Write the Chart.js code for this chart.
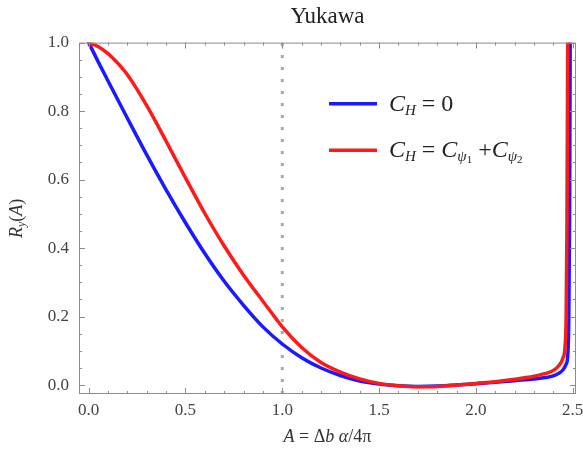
<!DOCTYPE html>
<html>
<head>
<meta charset="utf-8">
<script src="https://cdn.jsdelivr.net/npm/chart.js@4"></script>
<style>
  html, body { margin: 0; padding: 0; background: #fff; }
  canvas { display: block; }
</style>
</head>
<body>
<canvas id="chart" width="583" height="461"></canvas>
<script>
// tick labels
const xTicks = [0, 0.5, 1.0, 1.5, 2.0, 2.5];
const yTicks = [0, 0.2, 0.4, 0.6, 0.8, 1.0];

// C_H = 0 (blue)
const blueX = [0, 0.05, 0.1, 0.2, 0.3, 0.4, 0.5, 0.6, 0.7, 0.8, 0.9, 1.0, 1.1, 1.2, 1.3, 1.4, 1.5, 1.6, 1.7, 1.8, 1.9, 2.0, 2.1, 2.2, 2.3, 2.36, 2.4, 2.43, 2.45, 2.465, 2.475, 2.48, 2.484, 2.487];
const blueY = [1.0, 0.943, 0.888, 0.779, 0.672, 0.570, 0.474, 0.384, 0.303, 0.233, 0.170, 0.120, 0.080, 0.050, 0.028, 0.012, 0.003, -0.002, -0.004, -0.003, 0.0, 0.004, 0.008, 0.013, 0.018, 0.022, 0.027, 0.035, 0.045, 0.06, 0.09, 0.2, 0.5, 1.0];

// C_H = C_psi1 + C_psi2 (red)
const redX = [0, 0.05, 0.1, 0.15, 0.2, 0.3, 0.4, 0.5, 0.6, 0.7, 0.8, 0.9, 1.0, 1.1, 1.2, 1.3, 1.4, 1.5, 1.6, 1.7, 1.8, 1.9, 2.0, 2.1, 2.2, 2.3, 2.36, 2.4, 2.43, 2.45, 2.46, 2.466, 2.47, 2.474];
const redY = [1.0, 0.988, 0.968, 0.940, 0.906, 0.816, 0.712, 0.605, 0.501, 0.406, 0.321, 0.245, 0.17, 0.11, 0.066, 0.038, 0.018, 0.005, -0.002, -0.005, -0.004, 0.0, 0.005, 0.01, 0.017, 0.026, 0.034, 0.043, 0.058, 0.08, 0.11, 0.2, 0.45, 1.0];

// dotted marker at A = 1
const markerX = [1.0, 1.0];
const markerY = [-0.026, 1.0];

const serif = '"Liberation Serif", "Times New Roman", serif';
const toPoints = (xs, ys) => xs.map((x, i) => ({ x: x, y: ys[i] }));

// text with italic parts and subscripts
function richWidth(ctx, parts, size) {
    let w = 0;
    parts.forEach(p => {
        ctx.font = (p.i ? 'italic ' : '') + (p.s || size) + 'px ' + serif;
        w += ctx.measureText(p.t).width;
    });
    return w;
}
function drawRich(ctx, parts, x, y, size) {
    parts.forEach(p => {
        ctx.font = (p.i ? 'italic ' : '') + (p.s || size) + 'px ' + serif;
        ctx.fillText(p.t, x, y + (p.dy || 0));
        x += ctx.measureText(p.t).width;
    });
}

const legendItems = [
    { color: '#1a1aff', parts: [{ t: 'C', i: true }, { t: 'H', i: true, s: 15, dy: 6 }, { t: ' = 0' }] },
    { color: '#ff1a1a', parts: [{ t: 'C', i: true }, { t: 'H', i: true, s: 15, dy: 6 }, { t: ' = ' },
        { t: 'C', i: true }, { t: 'ψ', i: true, s: 15, dy: 6 }, { t: '1', s: 11, dy: 9 },
        { t: ' +' }, { t: 'C', i: true }, { t: 'ψ', i: true, s: 15, dy: 6 }, { t: '2', s: 11, dy: 9 }] }
];

const framePlugin = {
    id: 'frame',
    afterDraw(chart) {
        const ctx = chart.ctx;
        const a = chart.chartArea;
        const sx = chart.scales.x, sy = chart.scales.y;
        ctx.save();
        ctx.strokeStyle = '#8c8c8c';
        ctx.lineWidth = 1;
        ctx.strokeRect(a.left + 0.5, a.top + 0.5, a.right - a.left - 1, a.bottom - a.top - 1);
        ctx.beginPath();
        for (let i = 0; i <= 25; i++) {
            const v = i / 10;
            const px = Math.round(sx.getPixelForValue(v)) + 0.5;
            const len = i % 5 === 0 ? 6 : 3;
            ctx.moveTo(px, a.bottom); ctx.lineTo(px, a.bottom - len);
            ctx.moveTo(px, a.top); ctx.lineTo(px, a.top + len);
        }
        for (let i = 0; i <= 20; i++) {
            const v = i / 20;
            const py = Math.round(sy.getPixelForValue(v)) + 0.5;
            const len = i % 4 === 0 ? 6 : 3;
            ctx.moveTo(a.left, py); ctx.lineTo(a.left + len, py);
            ctx.moveTo(a.right, py); ctx.lineTo(a.right - len, py);
        }
        ctx.stroke();

        // legend
        ctx.fillStyle = '#222';
        ctx.textBaseline = 'middle';
        legendItems.forEach((item, k) => {
            const x0 = a.left + 0.503 * (a.right - a.left);
            const y0 = a.top + (0.174 + k * 0.132) * (a.bottom - a.top);
            ctx.strokeStyle = item.color;
            ctx.lineWidth = 3.5;
            ctx.beginPath();
            ctx.moveTo(x0, y0); ctx.lineTo(x0 + 48, y0);
            ctx.stroke();
            drawRich(ctx, item.parts, x0 + 60, y0 + 1, 24);
        });

        // axis titles
        ctx.fillStyle = '#333';
        const xt = [{ t: 'A', i: true }, { t: ' = Δ' }, { t: 'b', i: true }, { t: ' α', i: true }, { t: '/4π' }];
        const wx = richWidth(ctx, xt, 18);
        drawRich(ctx, xt, (a.left + a.right) / 2 - wx / 2, 437, 18);

        const yt = [{ t: 'R', i: true }, { t: 'y', i: true, s: 12, dy: 5 }, { t: '(' }, { t: 'A', i: true }, { t: ')' }];
        const wy = richWidth(ctx, yt, 18);
        ctx.translate(17, (a.top + a.bottom) / 2);
        ctx.rotate(-Math.PI / 2);
        drawRich(ctx, yt, -wy / 2, 0, 18);
        ctx.restore();
    }
};

const tickFont = { family: serif, size: 17 };

new Chart(document.getElementById('chart'), {
    type: 'line',
    data: {
        datasets: [
            {
                label: 'C_H = C_psi1 + C_psi2',
                data: toPoints(redX, redY),
                borderColor: '#ff1a1a',
                borderWidth: 3.5,
                pointRadius: 0,
                cubicInterpolationMode: 'monotone',
                borderCapStyle: 'round',
                order: 1
            },
            {
                label: 'C_H = 0',
                data: toPoints(blueX, blueY),
                borderColor: '#1a1aff',
                borderWidth: 3.5,
                pointRadius: 0,
                cubicInterpolationMode: 'monotone',
                borderCapStyle: 'round',
                order: 2
            },
            {
                label: 'marker',
                data: toPoints(markerX, markerY),
                borderColor: '#aaaaaa',
                borderWidth: 3,
                borderDash: [3, 9],
                pointRadius: 0,
                order: 3
            }
        ]
    },
    options: {
        responsive: false,
        animation: false,
        devicePixelRatio: 1,
        layout: { padding: { left: 0, right: 7, top: 0, bottom: 0 } },
        plugins: {
            legend: { display: false },
            tooltip: { enabled: false },
            title: {
                display: true,
                text: 'Yukawa',
                fullSize: false,
                color: '#222',
                font: { family: serif, size: 23, weight: 'normal' },
                padding: { top: 3, bottom: 12 }
            }
        },
        scales: {
            x: {
                type: 'linear',
                min: -0.05,
                max: 2.517,
                afterBuildTicks: s => { s.ticks = xTicks.map(v => ({ value: v })); },
                afterFit: s => { s.height = 67; s.paddingLeft = 0; s.paddingRight = 0; },
                ticks: {
                    callback: v => v.toFixed(1),
                    font: tickFont,
                    color: '#444',
                    padding: 6,
                    maxRotation: 0,
                    autoSkip: false
                },
                grid: { display: false, drawTicks: false },
                border: { display: false }
            },
            y: {
                type: 'linear',
                min: -0.026,
                max: 1.0,
                afterBuildTicks: s => { s.ticks = yTicks.map(v => ({ value: v })); },
                afterFit: s => { s.width = 79; s.paddingTop = 0; s.paddingBottom = 0; },
                ticks: {
                    callback: v => v.toFixed(1),
                    font: tickFont,
                    color: '#444',
                    padding: 10,
                    autoSkip: false
                },
                grid: { display: false, drawTicks: false },
                border: { display: false }
            }
        }
    },
    plugins: [framePlugin]
});
</script>
</body>
</html>
